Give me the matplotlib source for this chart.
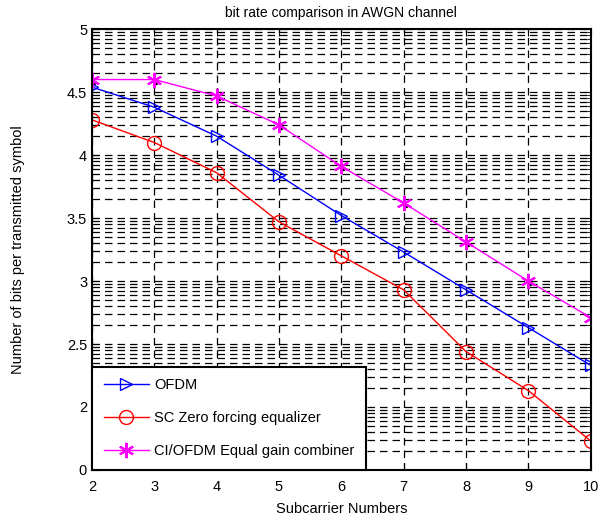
import numpy as np
import matplotlib.pyplot as plt
import matplotlib.transforms as mtransforms
from matplotlib.ticker import FixedLocator

plt.rcParams['font.family'] = ['Liberation Sans', 'DejaVu Sans']

subcarriers = [2, 3, 4, 5, 6, 7, 8, 9, 10]
ofdm = [4.54, 4.38, 4.15, 3.84, 3.52, 3.23, 2.93, 2.63, 2.33]
sc_zf = [4.28, 4.10, 3.86, 3.47, 3.20, 2.93, 2.44, 2.13, 1.73]
ci_ofdm = [4.60, 4.60, 4.47, 4.24, 3.91, 3.62, 3.31, 3.00, 2.71]

ytick_vals = [1.5, 2, 2.5, 3, 3.5, 4, 4.5, 5]
ytick_labels = ['0', '2', '2.5', '3', '3.5', '4', '4.5', '5']

fig = plt.figure(figsize=(6.09, 5.21), dpi=100)
ax = fig.add_axes([0.151, 0.098, 0.819, 0.846])

asterisk = (6, 2, 0)

ax.plot(subcarriers, ofdm, '-', color='b', lw=1, marker='>', ms=9,
        mfc='none', mec='b', label='OFDM')
ax.plot(subcarriers, sc_zf, '-', color='r', lw=1, marker='o', ms=10,
        mfc='none', mec='r', label='SC Zero forcing equalizer')
# little black dots show up next to the stars in the original
shift = mtransforms.offset_copy(ax.transData, fig=fig, x=2, y=-3, units='dots')
ax.plot(subcarriers, ci_ofdm, ls='none', marker='.', ms=3, color='k',
        transform=shift, zorder=1.9)
ax.plot(subcarriers, ci_ofdm, '-', color='magenta', lw=1, marker=asterisk,
        ms=11, mew=1.5, label='CI/OFDM Equal gain combiner')

ax.set_xlim(2, 10)
ax.set_ylim(1.5, 5)
ax.set_xticks(subcarriers)
ax.set_yticks(ytick_vals)
ax.set_yticklabels(ytick_labels)

# log-style minor lines inside each half-unit band (like matlab minor grid)
minor = []
for b in ytick_vals[:-1]:
    for k in range(2, 10):
        minor.append(b + 0.5 * np.log10(k))
ax.yaxis.set_minor_locator(FixedLocator(minor))

dash = (0, (6, 4))
ax.grid(True, which='major', axis='both', ls=dash, color='k', lw=0.9)
ax.grid(True, which='minor', axis='y', ls=dash, color='k', lw=0.9)

ax.tick_params(which='both', direction='in', top=True, right=True, labelsize=10.5)
ax.tick_params(which='major', length=5)
ax.tick_params(which='minor', length=3)
ax.tick_params(axis='x', which='minor', bottom=False, top=False)
ax.tick_params(axis='x', pad=7)
for s in ax.spines.values():
    s.set_linewidth(1.5)

ax.set_title('bit rate comparison in AWGN channel', fontsize=10, pad=9)
ax.set_xlabel('Subcarrier Numbers', fontsize=10.5, labelpad=6)
ax.set_ylabel('Number of bits per transmitted symbol', fontsize=10.5, labelpad=30)

leg = ax.legend(loc='lower left', borderaxespad=0, fontsize=10.5,
                handlelength=3.1, handletextpad=0.35, labelspacing=1.3,
                borderpad=0.8, fancybox=False, framealpha=1, edgecolor='k')
leg.get_frame().set_linewidth(1.5)

fig.savefig('out.png', dpi=100)
